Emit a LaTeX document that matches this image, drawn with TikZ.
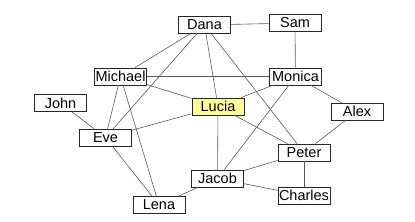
\documentclass[tikz,border=0pt]{standalone}
\usepackage{fontspec}
\setmainfont{Liberation Sans}
\begin{document}
\begin{tikzpicture}[x=1pt,y=-1pt,
  person/.style={draw=black!85,fill=white,line width=0.7pt,rectangle,minimum width=52pt,minimum height=17pt,inner sep=0pt,font=\fontsize{14.5}{14.5}\selectfont},
  hilite/.style={person,fill=yellow!40},
  link/.style={draw=black!65,line width=0.6pt}]
\useasboundingbox (0,0) rectangle (415,222);
\node[person] (dana) at (204.5,25) {Dana};
\node[person] (sam) at (295,23) {Sam};
\node[person] (michael) at (120.5,76.5) {Michael};
\node[person] (monica) at (295.5,76.5) {Monica};
\node[person] (john) at (60.5,103) {John};
\node[hilite] (lucia) at (218,106.5) {Lucia};
\node[person] (alex) at (357,111.5) {Alex};
\node[person] (eve) at (105.5,137.5) {Eve};
\node[person] (peter) at (304,152.5) {Peter};
\node[person] (jacob) at (217.5,178.5) {Jacob};
\node[person] (charles) at (304,195.5) {Charles};
\node[person] (lena) at (159,205) {Lena};
\draw[link] (dana) -- (sam);
\draw[link] (dana) -- (michael);
\draw[link] (dana) -- (eve);
\draw[link] (dana) -- (lucia);
\draw[link] (dana) -- (peter);
\draw[link] (sam) -- (monica);
\draw[link] (michael) -- (monica);
\draw[link] (michael) -- (lucia);
\draw[link] (michael) -- (eve);
\draw[link] (michael) -- (lena);
\draw[link] (monica) -- (lucia);
\draw[link] (monica) -- (jacob);
\draw[link] (monica) -- (alex);
\draw[link] (john) -- (eve);
\draw[link] (eve) -- (lucia);
\draw[link] (eve) -- (lena);
\draw[link] (lucia) -- (jacob);
\draw[link] (lucia) -- (peter);
\draw[link] (alex) -- (peter);
\draw[link] (peter) -- (jacob);
\draw[link] (peter) -- (charles);
\draw[link] (jacob) -- (charles);
\draw[link] (jacob) -- (lena);
\end{tikzpicture}
\end{document}
